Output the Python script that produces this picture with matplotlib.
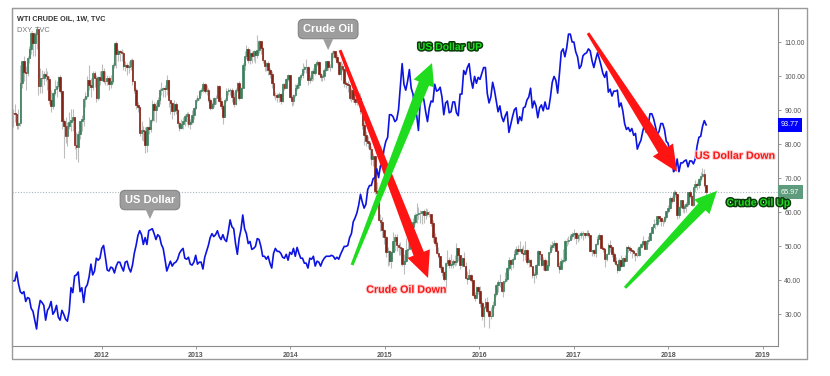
import matplotlib
matplotlib.use("Agg")
import matplotlib.pyplot as plt
import matplotlib.patheffects as pe
from matplotlib.patches import Polygon, Rectangle
import matplotlib.transforms as mtransforms
import numpy as np
import pandas as pd

plt.rcParams['font.family'] = ['Liberation Sans', 'DejaVu Sans']

# ---- WTI crude oil, weekly candles (close / high / low), open = previous close ----
first_open = 91.4

close_2011 = [88.0, 91.5, 89.1, 89.3, 89.0, 85.6, 86.2, 97.9, 104.4, 101.2, 101.1, 105.4, 107.9, 112.8, 109.7, 112.3, 113.9, 97.2, 99.6, 99.5, 100.6, 100.2, 99.3, 93.0, 91.2, 95.0, 96.2, 97.2, 99.9, 95.7, 86.9, 85.4, 82.3, 85.4, 86.5, 87.2, 88.0, 79.9, 79.2, 83.0, 86.8, 87.4, 93.3, 94.3, 99.0, 97.4, 96.8, 101.0, 99.4, 93.5, 99.7, 98.8]
high_2011 = [89.5, 92.5, 91.5, 90.5, 92.0, 88.0, 90.5, 103.4, 104.5, 106.0, 103.0, 106.0, 108.8, 113.0, 112.5, 113.0, 114.8, 113.8, 102.5, 102.0, 101.5, 102.5, 101.5, 100.0, 96.0, 95.5, 99.0, 98.5, 100.0, 100.5, 95.5, 87.5, 88.0, 86.5, 89.5, 90.5, 90.5, 87.0, 83.5, 84.0, 87.0, 88.5, 94.0, 95.5, 100.0, 103.4, 99.5, 101.5, 101.5, 100.5, 100.0, 101.5]
low_2011 = [87.0, 88.5, 88.0, 85.0, 86.5, 84.5, 84.5, 85.5, 96.5, 98.5, 96.0, 100.0, 104.0, 106.5, 106.0, 106.0, 108.0, 94.6, 95.0, 95.0, 97.5, 98.5, 96.0, 92.0, 89.6, 90.5, 94.5, 94.0, 96.5, 95.0, 84.5, 76.0, 80.5, 79.5, 84.5, 84.0, 84.0, 78.5, 75.7, 74.9, 81.5, 84.0, 85.5, 91.0, 93.5, 96.0, 94.0, 96.0, 97.0, 92.5, 93.0, 97.5]

close_2012 = [101.6, 98.7, 98.5, 99.6, 97.8, 98.7, 103.2, 109.8, 106.7, 107.4, 107.1, 106.9, 103.0, 103.3, 102.8, 103.1, 104.9, 98.5, 96.1, 91.5, 90.9, 83.2, 84.1, 84.0, 79.8, 85.0, 84.5, 87.1, 91.8, 90.1, 91.4, 92.9, 96.0, 96.2, 96.5, 96.4, 99.0, 92.9, 92.2, 89.9, 91.9, 90.1, 86.3, 84.9, 86.1, 86.9, 88.3, 88.9, 85.9, 86.7, 88.7, 90.8]
high_2012 = [103.7, 102.5, 101.5, 100.5, 100.0, 100.5, 103.8, 109.9, 110.5, 108.0, 107.8, 108.0, 107.5, 104.5, 104.0, 104.5, 105.0, 105.5, 98.5, 96.5, 92.5, 91.0, 87.0, 85.5, 85.0, 85.5, 88.0, 87.5, 92.9, 92.5, 92.5, 94.0, 96.5, 98.3, 97.0, 97.5, 100.4, 99.0, 93.0, 92.5, 93.0, 92.5, 90.5, 87.0, 87.5, 88.0, 89.0, 89.5, 89.5, 87.5, 90.0, 91.0]
low_2012 = [98.5, 98.0, 97.5, 97.5, 96.0, 96.5, 98.0, 102.5, 102.5, 104.5, 104.5, 104.5, 102.0, 101.5, 100.5, 101.0, 102.0, 97.5, 95.0, 90.5, 89.5, 82.5, 81.2, 81.0, 77.3, 77.6, 83.0, 83.5, 86.5, 87.0, 86.5, 91.0, 92.0, 94.5, 94.0, 94.0, 94.5, 91.0, 89.0, 87.5, 88.5, 89.0, 85.0, 84.0, 84.5, 84.5, 85.5, 86.0, 85.0, 84.5, 86.0, 87.5]

close_2013 = [93.1, 93.6, 95.6, 95.9, 97.8, 95.7, 95.9, 93.1, 90.7, 92.0, 93.5, 93.7, 97.2, 92.7, 91.3, 88.0, 93.0, 95.6, 96.0, 96.0, 93.8, 92.0, 96.0, 97.9, 93.7, 96.6, 103.2, 106.0, 108.1, 104.7, 106.9, 106.0, 107.5, 106.4, 107.7, 110.5, 108.2, 104.7, 102.9, 103.8, 102.0, 100.8, 97.9, 94.6, 94.6, 93.8, 94.8, 92.7, 97.7, 96.6, 99.3, 100.3]
high_2013 = [93.5, 94.5, 96.0, 96.5, 98.2, 98.0, 97.5, 96.5, 93.5, 92.5, 93.8, 94.5, 97.5, 97.5, 94.0, 92.0, 93.5, 96.5, 96.5, 96.5, 96.5, 95.5, 96.5, 98.2, 98.5, 97.0, 104.0, 107.5, 109.3, 108.5, 108.0, 107.5, 107.8, 107.5, 112.2, 110.7, 110.5, 108.5, 104.8, 104.2, 104.5, 102.5, 101.5, 98.0, 95.5, 95.0, 95.5, 95.0, 98.0, 98.0, 99.5, 100.8]
low_2013 = [90.5, 92.5, 93.0, 94.5, 95.5, 95.0, 94.5, 92.5, 90.0, 90.5, 91.0, 92.0, 93.5, 92.5, 90.5, 86.1, 88.0, 92.5, 94.5, 94.5, 92.5, 91.0, 91.5, 95.5, 93.0, 93.5, 96.5, 102.0, 105.0, 104.0, 103.5, 104.0, 104.5, 104.0, 105.5, 107.0, 106.5, 104.0, 101.5, 101.5, 100.5, 99.5, 96.5, 94.0, 93.0, 92.5, 92.5, 91.8, 92.5, 96.0, 96.5, 98.5]

close_2014 = [94.0, 92.7, 94.4, 96.6, 97.5, 99.9, 100.3, 102.2, 102.6, 102.6, 98.9, 99.5, 101.7, 101.1, 103.7, 104.3, 100.6, 99.8, 100.0, 102.0, 104.4, 102.7, 102.7, 106.9, 107.3, 105.7, 104.1, 100.8, 103.1, 102.1, 97.9, 97.7, 97.4, 93.7, 96.0, 93.3, 92.3, 92.4, 93.5, 89.7, 85.8, 82.8, 81.0, 80.5, 78.7, 75.8, 76.5, 66.2, 65.8, 57.8, 57.1, 54.7]
high_2014 = [100.5, 94.5, 94.8, 97.8, 98.0, 100.0, 101.0, 103.8, 103.0, 105.2, 103.0, 100.5, 102.0, 102.5, 104.0, 104.8, 104.5, 101.0, 100.8, 102.3, 104.5, 104.5, 103.5, 107.5, 107.7, 107.0, 106.5, 104.5, 104.5, 104.0, 102.5, 98.5, 98.5, 97.5, 96.5, 95.5, 94.0, 95.0, 95.0, 95.0, 91.5, 86.5, 84.0, 82.5, 81.0, 79.5, 77.5, 76.5, 69.0, 67.5, 59.5, 58.5]
low_2014 = [93.5, 91.2, 91.5, 94.0, 96.0, 96.5, 99.0, 99.5, 101.0, 101.0, 97.5, 98.0, 98.5, 99.0, 100.5, 103.0, 100.5, 98.5, 98.5, 99.0, 101.5, 102.0, 101.5, 102.5, 105.5, 105.0, 103.5, 100.5, 99.0, 101.5, 97.0, 96.5, 95.5, 93.0, 92.5, 92.5, 91.5, 91.5, 91.5, 89.0, 84.5, 79.8, 79.5, 79.0, 75.8, 73.8, 73.6, 65.5, 63.7, 57.5, 54.5, 52.7]

close_2015 = [52.7, 48.4, 48.7, 45.6, 48.2, 51.7, 52.8, 50.3, 49.8, 49.6, 44.8, 45.7, 48.9, 49.1, 51.6, 55.7, 57.2, 59.2, 59.4, 59.7, 59.7, 60.3, 59.1, 60.0, 59.6, 59.6, 56.9, 52.7, 50.9, 48.1, 47.1, 43.9, 42.5, 40.5, 45.2, 46.1, 44.6, 44.7, 45.7, 45.5, 49.6, 47.3, 44.6, 46.6, 44.3, 40.7, 40.4, 41.7, 40.0, 35.6, 34.7, 38.1]
high_2015 = [55.1, 53.0, 49.9, 48.8, 48.6, 54.2, 53.5, 53.6, 51.0, 51.3, 49.8, 47.8, 52.5, 53.0, 54.0, 56.6, 58.4, 59.9, 62.6, 61.5, 60.8, 60.4, 61.1, 61.3, 61.0, 60.3, 59.6, 57.7, 54.0, 51.7, 49.8, 47.0, 44.5, 42.8, 45.5, 49.0, 46.9, 47.7, 46.2, 47.4, 50.9, 48.4, 47.3, 47.0, 48.3, 45.5, 42.7, 43.2, 42.0, 40.2, 36.5, 38.4]
low_2015 = [50.6, 46.8, 44.2, 44.4, 43.6, 48.2, 48.6, 48.5, 47.3, 47.3, 44.2, 42.0, 45.3, 46.7, 49.2, 51.1, 55.5, 56.5, 56.9, 58.0, 57.0, 56.5, 56.9, 57.9, 59.0, 58.6, 55.9, 51.2, 50.1, 47.7, 46.7, 43.3, 41.4, 39.9, 37.8, 44.2, 43.6, 43.5, 43.6, 44.1, 44.4, 45.6, 43.3, 43.9, 44.1, 40.5, 38.9, 40.3, 39.4, 35.4, 33.9, 35.5]

close_2016 = [37.0, 33.2, 29.4, 32.2, 33.6, 30.9, 29.4, 29.6, 32.8, 35.9, 38.5, 39.4, 39.5, 36.8, 39.7, 40.4, 43.7, 45.9, 44.7, 46.2, 47.8, 49.3, 48.6, 49.1, 48.0, 47.6, 49.0, 45.4, 46.0, 44.2, 41.6, 41.8, 44.5, 48.5, 47.6, 44.4, 45.9, 43.0, 44.5, 48.2, 49.8, 50.4, 50.9, 48.7, 44.1, 43.4, 45.7, 46.1, 51.7, 51.5, 51.9, 53.0, 53.7]
high_2016 = [38.4, 38.4, 33.8, 32.4, 34.8, 35.0, 31.4, 32.2, 33.8, 36.2, 38.9, 40.2, 41.9, 39.0, 39.9, 42.4, 44.0, 46.8, 46.2, 47.0, 48.9, 50.2, 50.3, 51.7, 49.8, 50.5, 51.7, 49.2, 46.5, 46.4, 44.2, 42.5, 44.8, 48.8, 48.5, 47.6, 47.0, 46.6, 46.0, 48.3, 50.7, 51.6, 51.9, 51.2, 48.8, 45.3, 46.5, 49.2, 51.8, 52.4, 53.0, 53.6, 54.3]
low_2016 = [36.1, 32.1, 28.4, 26.2, 31.5, 30.4, 26.1, 28.6, 30.6, 32.0, 35.3, 36.5, 38.0, 36.6, 35.2, 39.3, 39.9, 43.0, 43.0, 43.5, 46.1, 47.3, 47.6, 48.2, 47.6, 45.8, 46.1, 44.9, 44.0, 43.9, 40.6, 39.2, 40.8, 45.1, 46.0, 44.1, 43.1, 42.6, 43.1, 44.0, 47.6, 49.0, 49.6, 48.5, 43.6, 42.2, 43.2, 45.2, 45.3, 50.2, 50.7, 51.9, 52.2]

close_2017 = [54.0, 52.4, 53.2, 53.2, 53.8, 53.9, 53.4, 54.0, 53.3, 48.5, 48.8, 48.0, 50.6, 52.2, 53.2, 49.6, 49.3, 46.2, 47.8, 50.3, 49.8, 47.7, 45.8, 44.7, 43.0, 46.0, 44.2, 46.5, 45.8, 49.7, 49.6, 48.8, 48.5, 47.9, 47.3, 47.5, 49.9, 50.7, 51.7, 49.3, 51.5, 51.8, 53.9, 55.6, 56.7, 56.6, 59.0, 58.4, 57.4, 57.3, 58.5, 60.4]
high_2017 = [55.2, 54.3, 53.5, 54.0, 54.5, 54.5, 54.0, 54.9, 54.7, 53.4, 49.0, 49.2, 50.9, 52.9, 53.8, 53.2, 50.0, 49.4, 48.0, 50.9, 52.0, 50.2, 48.4, 46.8, 44.7, 46.7, 47.3, 47.0, 47.4, 50.0, 50.4, 50.2, 49.1, 49.0, 48.1, 49.4, 50.2, 51.0, 52.9, 51.9, 51.6, 52.9, 54.2, 55.9, 57.9, 57.0, 59.0, 59.0, 58.7, 58.0, 58.8, 60.5]
low_2017 = [52.1, 50.7, 51.2, 52.0, 52.5, 51.8, 52.5, 53.0, 52.6, 48.5, 47.1, 47.1, 47.0, 50.3, 52.2, 49.5, 48.2, 43.8, 45.7, 47.7, 48.2, 46.9, 45.2, 44.2, 42.1, 42.6, 43.9, 44.5, 45.4, 46.1, 48.4, 47.9, 46.5, 47.2, 45.6, 47.0, 47.2, 49.4, 50.2, 49.1, 49.5, 50.8, 51.9, 54.2, 55.8, 55.0, 56.0, 57.1, 56.1, 56.1, 56.9, 58.1]

close_2018 = [61.4, 64.3, 63.4, 66.1, 65.5, 59.2, 61.7, 63.6, 61.3, 62.0, 62.3, 65.9, 64.9, 62.1, 67.4, 68.4, 68.1, 69.7, 70.7, 71.3, 67.9, 65.97]
high_2018 = [62.2, 64.8, 64.9, 66.7, 66.7, 65.5, 62.0, 63.7, 63.7, 62.4, 62.9, 66.0, 66.6, 65.0, 67.5, 69.6, 68.9, 70.0, 71.9, 72.9, 72.8, 68.0]
low_2018 = [59.9, 61.0, 62.6, 63.3, 64.4, 58.1, 58.2, 61.3, 60.2, 59.9, 60.2, 61.9, 64.2, 61.8, 61.9, 66.1, 66.7, 67.2, 69.3, 70.2, 67.4, 64.2]

# ---- US dollar index (DXY), weekly close ----
dxy_2011 = [80.9, 79.0, 78.1, 77.9, 77.9, 78.8, 77.6, 76.8, 76.6, 76.8, 75.8, 76.2, 76.1, 75.1, 74.8, 73.9, 73.0, 74.9, 75.9, 75.7, 75.4, 73.9, 74.9, 75.2, 75.8, 74.5, 74.8, 75.4, 74.2, 73.9, 74.9, 74.5, 74.0, 73.8, 74.8, 77.2, 76.7, 78.4, 78.5, 78.8, 76.8, 77.2, 75.7, 77.2, 77.5, 78.3, 79.6, 78.5, 78.9, 80.2, 80.0, 80.2]
dxy_2012 = [81.2, 81.5, 80.3, 79.0, 78.9, 79.3, 79.2, 78.7, 79.4, 79.8, 79.8, 79.3, 78.9, 79.8, 79.9, 79.2, 78.8, 79.5, 80.7, 81.5, 82.5, 83.0, 82.6, 81.6, 82.3, 81.6, 83.0, 83.1, 83.2, 82.7, 82.1, 82.6, 82.4, 81.6, 81.2, 80.1, 78.9, 79.4, 79.9, 79.4, 79.7, 79.8, 80.1, 80.7, 81.0, 81.2, 80.2, 80.1, 80.3, 79.6, 79.5, 79.8]
dxy_2013 = [80.5, 79.6, 79.8, 79.8, 79.1, 80.3, 80.9, 81.5, 82.3, 82.7, 82.4, 82.6, 83.0, 82.4, 82.1, 82.6, 82.1, 81.9, 82.9, 84.1, 83.4, 83.2, 81.7, 80.6, 82.2, 83.1, 84.6, 83.2, 82.7, 81.7, 81.9, 81.1, 81.2, 81.4, 82.2, 82.1, 81.4, 80.4, 80.4, 80.1, 80.4, 79.7, 79.2, 80.7, 81.2, 80.9, 80.9, 80.7, 80.3, 80.2, 80.6, 80.0]
dxy_2014 = [80.8, 80.6, 81.2, 80.4, 81.3, 80.7, 80.2, 80.2, 79.7, 79.7, 79.2, 80.2, 80.1, 80.4, 79.4, 79.9, 79.8, 79.4, 79.9, 80.2, 80.4, 80.4, 80.4, 80.5, 80.4, 80.1, 80.3, 80.1, 80.6, 81.0, 81.4, 81.4, 81.5, 82.3, 82.7, 83.9, 84.3, 84.8, 85.6, 86.7, 85.9, 85.3, 85.7, 87.2, 87.6, 87.6, 88.3, 88.4, 89.3, 88.4, 89.6, 89.9]
dxy_2015 = [91.3, 92.1, 92.5, 94.8, 94.8, 94.6, 94.1, 94.3, 95.3, 97.7, 100.0, 97.9, 97.3, 98.2, 99.4, 97.5, 96.9, 95.2, 94.8, 93.2, 96.2, 96.9, 96.3, 95.1, 94.1, 95.5, 96.2, 96.1, 97.9, 97.2, 97.3, 97.6, 96.6, 94.8, 96.0, 96.2, 95.0, 95.1, 96.1, 96.1, 95.0, 94.7, 96.9, 96.9, 99.3, 98.9, 99.6, 100.0, 98.4, 97.5, 98.7, 98.0]
dxy_2016 = [98.6, 98.4, 99.0, 99.6, 99.6, 97.0, 96.0, 96.6, 98.1, 97.3, 96.2, 95.1, 95.7, 94.6, 94.1, 94.7, 95.1, 93.0, 93.8, 94.6, 95.3, 95.5, 93.9, 94.6, 94.2, 95.5, 95.6, 96.3, 96.6, 97.5, 95.5, 96.2, 95.7, 94.5, 95.5, 95.8, 95.2, 96.1, 95.4, 95.4, 96.6, 98.1, 98.7, 98.3, 97.0, 99.0, 101.2, 101.5, 100.7, 101.6, 103.0, 103.0, 102.2]
dxy_2017 = [102.2, 101.2, 100.7, 99.5, 99.8, 100.8, 101.0, 101.1, 101.5, 101.3, 100.3, 99.6, 100.4, 101.1, 100.5, 99.8, 99.0, 98.6, 99.2, 97.1, 97.4, 96.7, 97.2, 97.2, 97.3, 95.6, 96.0, 95.2, 93.9, 93.3, 93.5, 93.1, 93.4, 92.7, 92.9, 91.3, 91.8, 92.2, 93.1, 93.8, 93.0, 93.7, 94.9, 94.9, 94.4, 93.6, 92.8, 93.1, 93.9, 93.9, 93.3, 92.1]
dxy_2018 = [91.9, 90.9, 90.6, 89.0, 89.2, 90.3, 89.0, 89.9, 89.9, 90.1, 90.2, 89.5, 90.1, 90.1, 89.8, 90.3, 91.6, 92.5, 92.6, 93.6, 94.2, 93.77]

years = [2011, 2012, 2013, 2014, 2015, 2016, 2017, 2018]
closes_by_year = [close_2011, close_2012, close_2013, close_2014, close_2015, close_2016, close_2017, close_2018]
highs_by_year = [high_2011, high_2012, high_2013, high_2014, high_2015, high_2016, high_2017, high_2018]
lows_by_year = [low_2011, low_2012, low_2013, low_2014, low_2015, low_2016, low_2017, low_2018]
dxy_by_year = [dxy_2011, dxy_2012, dxy_2013, dxy_2014, dxy_2015, dxy_2016, dxy_2017, dxy_2018]

oil_last = 65.97
dxy_last = 93.77
year_ticks = [2012, 2013, 2014, 2015, 2016, 2017, 2018, 2019]
price_ticks = [30, 40, 50, 60, 70, 80, 90, 100, 110]

# weekly dates (bar shown at the Monday that starts the week)
dates = []
for y, c in zip(years, closes_by_year):
    dates.append(pd.date_range(f'{y}-01-01', periods=len(c), freq='W-FRI') - pd.Timedelta(days=4))
dates = dates[0].append(dates[1:])
xs = np.asarray(dates.year + (dates.dayofyear - 1) / np.where(dates.is_leap_year, 366.0, 365.0))

close = np.concatenate(closes_by_year)
high = np.concatenate(highs_by_year)
low = np.concatenate(lows_by_year)
dxy = np.concatenate(dxy_by_year)
opens = np.concatenate([[first_open], close[:-1]])
high = np.maximum(high, np.maximum(opens, close))
low = np.minimum(low, np.minimum(opens, close))

W, H = 830, 376
fig = plt.figure(figsize=(W / 100, H / 100), dpi=100)
fig.subplots_adjust(left=12 / W, right=778 / W, bottom=1 - 346 / H, top=1 - 8 / H)
ax = fig.add_subplot(111)
ax.set_xlim(2011.052, 2019.164)
ax.set_ylim(20.68, 120.09)

up_col, down_col = '#3b7f5c', '#862317'
cols = np.where(close >= opens, up_col, down_col)
ax.vlines(xs, low, high, color='#bdbdbd', lw=0.8, zorder=1)
ax.bar(xs, np.abs(close - opens), width=6 / 365.25, bottom=np.minimum(opens, close),
       color=cols, edgecolor=cols, linewidth=0.5, zorder=2)
ax.axhline(oil_last, color='#a9b6bf', lw=0.8, ls=(0, (1, 1.5)), zorder=0)

ax2 = ax.twinx()
ax2.set_ylim(71.27, 105.66)
ax2.plot(xs, dxy, color='#0d14e0', lw=1.2, zorder=3)
ax2.set_yticks([])
for s in ax2.spines.values():
    s.set_visible(False)

# axes styling
ax.yaxis.tick_right()
ax.set_yticks(price_ticks)
ax.set_yticklabels([f'{v:.2f}' for v in price_ticks])
ax.set_xticks(year_ticks)
ax.set_xticklabels([str(v) for v in year_ticks], fontweight='bold')
ax.tick_params(axis='y', direction='out', length=2, width=0.6, color='#888888',
               labelsize=4.9, labelcolor='#555555', pad=2.5)
ax.tick_params(axis='x', direction='out', length=2, width=0.6, color='#888888',
               labelsize=5.0, labelcolor='#555555', pad=2.5)
for side in ['left', 'top']:
    ax.spines[side].set_color('#9a9a9a')
for side in ['right', 'bottom']:
    ax.spines[side].set_color('#8a8a8a')
    ax.spines[side].set_linewidth(0.8)

fig.add_artist(Rectangle((12 / W, 1 - 359 / H), (807 - 12) / W, (359 - 8) / H,
                         transform=fig.transFigure, fill=False, ec='#9a9a9a', lw=1))

# last-value labels on the price scale
bt = mtransforms.blended_transform_factory(ax.transAxes, ax.transData)
ax.text(1.004, oil_last, f'{oil_last:.2f}', transform=bt, ha='left', va='center', fontsize=5.2,
        color='white', clip_on=False, zorder=7,
        bbox=dict(boxstyle='square,pad=0.45', fc='#5f9c7d', ec='none'))
bt2 = mtransforms.blended_transform_factory(ax2.transAxes, ax2.transData)
ax2.text(1.004, dxy_last, f'{dxy_last:.2f}', transform=bt2, ha='left', va='center', fontsize=5.2,
         color='white', clip_on=False, zorder=7,
         bbox=dict(boxstyle='square,pad=0.45', fc='#0000ff', ec='none'))

# header texts
ax2.text(0.007, 0.966, 'WTI CRUDE OIL, 1W, TVC', transform=ax.transAxes, fontsize=5.2,
         fontweight='bold', color='#333333', va='center', zorder=6)
ax2.text(0.007, 0.935, 'DXY, TVC', transform=ax.transAxes, fontsize=5.3,
         color='#777777', va='center', zorder=6)


def fat_arrow(start, end, w0, w1, head_w, head_len, color):
    p0 = ax.transData.transform(start)
    p1 = ax.transData.transform(end)
    d = p1 - p0
    u = d / np.hypot(*d)
    n = np.array([-u[1], u[0]])
    base = p1 - u * head_len
    pts = [p0 + n * w0 / 2, base + n * w1 / 2, base + n * head_w / 2, p1,
           base - n * head_w / 2, base - n * w1 / 2, p0 - n * w0 / 2]
    pts = ax.transData.inverted().transform(np.array(pts))
    ax2.add_patch(Polygon(pts, closed=True, transform=ax.transData, fc=color, ec='none', zorder=5))


def callout(x, y_box, y_tip, label):
    ax2.text(x, y_box, label, transform=ax.transData, ha='center', va='center', color='white',
             fontsize=8, fontweight='bold', zorder=6,
             bbox=dict(boxstyle='round,pad=0.42,rounding_size=0.45', fc='#9d9d9d', ec='#858585', lw=0.8))
    tip = ax.transData.transform((x, y_tip))
    tri = np.array([tip, tip + [-5, 11], tip + [5, 11]])
    tri = ax.transData.inverted().transform(tri)
    ax2.add_patch(Polygon(tri, closed=True, transform=ax.transData, fc='#9d9d9d', ec='none', zorder=6))


red, green = '#ff1414', '#1fdc1f'
fat_arrow((2014.526, 107.7), (2015.458, 40.7), 3, 11, 24, 26, red)
fat_arrow((2014.653, 44.5), (2015.500, 103.9), 3, 11, 22, 22, green)
fat_arrow((2017.152, 112.7), (2018.094, 71.9), 3, 11, 24, 26, red)
fat_arrow((2017.544, 37.8), (2018.518, 66.3), 3, 10, 21, 22, green)

callout(2014.40, 113.9, 107.7, 'Crude Oil')
callout(2012.513, 63.6, 58.0, 'US Dollar')

green_fx = [pe.withStroke(linewidth=2.2, foreground='#0b3a0b')]
red_fx = [pe.withStroke(linewidth=1.6, foreground='#f6d6d6')]
ax2.text(2015.69, 108.6, 'US Dollar UP', transform=ax.transData, ha='center', va='center',
         fontsize=7.5, fontweight='bold', color=green, path_effects=green_fx, zorder=8)
ax2.text(2018.708, 76.6, 'US Dollar Down', transform=ax.transData, ha='center', va='center',
         fontsize=7.7, fontweight='bold', color=red, path_effects=red_fx, zorder=8, clip_on=False)
ax2.text(2015.227, 37.2, 'Crude Oil Down', transform=ax.transData, ha='center', va='center',
         fontsize=7.7, fontweight='bold', color=red, path_effects=red_fx, zorder=8)
ax2.text(2018.955, 62.8, 'Crude Oil Up', transform=ax.transData, ha='center', va='center',
         fontsize=7.5, fontweight='bold', color=green, path_effects=green_fx, zorder=8, clip_on=False)

fig.savefig('out.png', dpi=100)
